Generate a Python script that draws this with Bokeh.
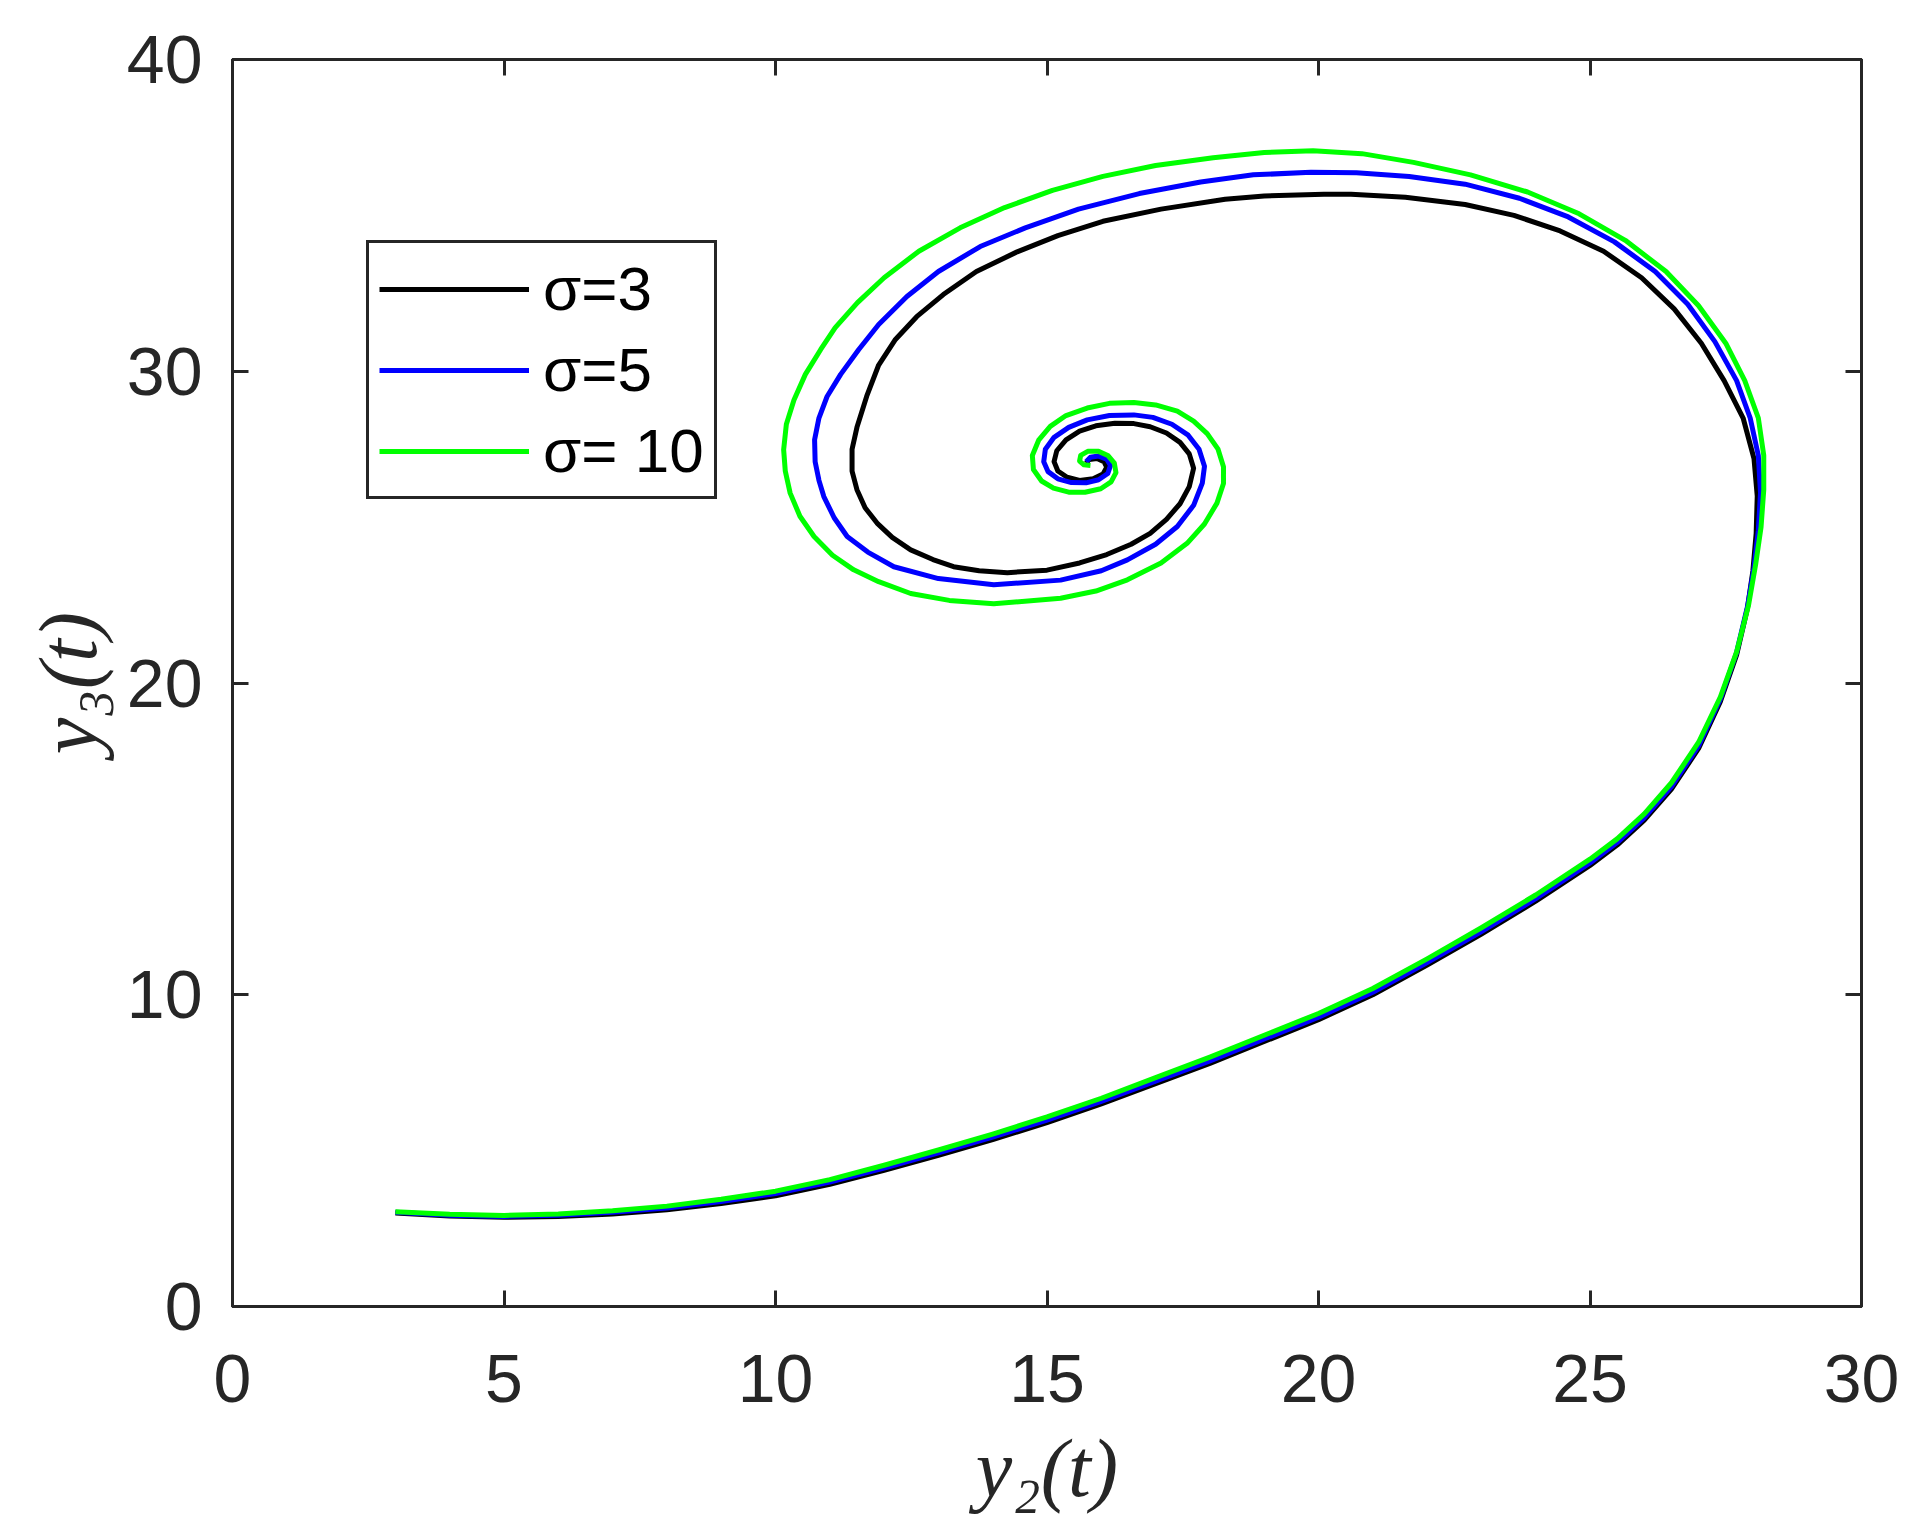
from bokeh.plotting import figure
from bokeh.models import Legend, LegendItem, LinearAxis, FixedTicker, Range1d
from bokeh.embed import file_html
from bokeh.resources import INLINE

# ---- data ----
x_ticks = [0, 5, 10, 15, 20, 25, 30]
y_ticks = [0, 10, 20, 30, 40]

black_x = [3.0, 4.0, 5.0, 6.0, 7.0, 8.0, 9.0, 10.0, 11.0, 12.0, 13.0, 14.0, 15.0, 16.0, 17.0, 18.0, 19.0, 20.0,
           21.0, 22.0, 23.0, 24.0, 25.0, 25.5, 26.0, 26.5, 27.0, 27.4, 27.7, 27.9, 28.0, 28.06, 28.08,
           28.02, 27.82, 27.47, 27.05, 26.55, 25.95, 25.25, 24.45, 23.6, 22.7, 21.6, 20.6, 20.1, 19.0, 18.28,
           17.1, 16.03, 15.2, 14.45, 13.7, 13.09, 12.6, 12.2, 11.9, 11.68, 11.5, 11.41, 11.41, 11.5, 11.65,
           11.87, 12.15, 12.49, 12.9, 13.28, 13.75, 14.27, 15.0, 15.6, 16.1, 16.55, 16.9, 17.2, 17.45, 17.62,
           17.7, 17.62, 17.45, 17.2, 16.9, 16.6, 16.25, 15.9, 15.6, 15.35, 15.18, 15.13, 15.2, 15.37, 15.6,
           15.85, 16.03, 16.1, 16.05, 15.92, 15.78, 15.72]
black_y = [3.0, 2.9, 2.86, 2.89, 2.97, 3.1, 3.3, 3.55, 3.92, 4.37, 4.85, 5.35, 5.9, 6.5, 7.15, 7.8, 8.5, 9.2,
           10.0, 10.95, 11.95, 13.0, 14.15, 14.8, 15.6, 16.6, 17.9, 19.4, 20.9, 22.4, 23.6, 24.8, 26.0,
           27.2, 28.5, 29.7, 30.9, 32.0, 33.0, 33.85, 34.5, 35.0, 35.35, 35.58, 35.68, 35.68, 35.62, 35.52,
           35.2, 34.81, 34.35, 33.83, 33.2, 32.46, 31.75, 31.0, 30.2, 29.2, 28.2, 27.5, 26.8, 26.2, 25.62,
           25.13, 24.67, 24.27, 23.96, 23.73, 23.6, 23.54, 23.62, 23.85, 24.12, 24.45, 24.8, 25.25, 25.75, 26.3,
           26.89, 27.35, 27.72, 28.02, 28.22, 28.32, 28.33, 28.25, 28.08, 27.8, 27.45, 27.1, 26.8, 26.6, 26.5,
           26.55, 26.7, 26.92, 27.1, 27.2, 27.17, 27.05]

blue_x = [3.0, 4.0, 5.0, 6.0, 7.0, 8.0, 9.0, 10.0, 11.0, 12.0, 13.0, 14.0, 15.0, 16.0, 17.0, 18.0, 19.0, 20.0,
          21.0, 22.0, 23.0, 24.0, 25.0, 25.5, 26.0, 26.5, 27.0, 27.4, 27.7, 27.9, 28.02, 28.1, 28.14,
          28.1, 27.95, 27.7, 27.3, 26.8, 26.2, 25.45, 24.6, 23.7, 22.7, 21.67, 20.7, 19.86, 18.8, 17.83,
          16.7, 15.58, 14.6, 13.77, 13.0, 12.42, 11.9, 11.53, 11.2, 10.95, 10.8, 10.72, 10.73, 10.8, 10.89, 11.08,
          11.32, 11.7, 12.18, 13.0, 14.02, 15.25, 16.0, 16.48, 17.0, 17.4, 17.7, 17.86, 17.9, 17.8, 17.6, 17.3,
          16.95, 16.6, 16.15, 15.74, 15.4, 15.13, 14.97, 14.94, 15.02, 15.2, 15.45, 15.72, 15.95, 16.12, 16.17,
          16.1, 15.95, 15.8, 15.72]
blue_y = [3.02, 2.93, 2.89, 2.93, 3.02, 3.16, 3.37, 3.62, 3.99, 4.44, 4.93, 5.43, 5.98, 6.58, 7.23, 7.88, 8.58, 9.28,
          10.08, 11.03, 12.03, 13.08, 14.23, 14.88, 15.68, 16.68, 17.98, 19.48, 20.98, 22.45, 23.7, 24.9, 26.1,
          27.3, 28.5, 29.7, 30.95, 32.15, 33.2, 34.15, 34.95, 35.55, 36.0, 36.25, 36.37, 36.38, 36.3, 36.07,
          35.7, 35.2, 34.6, 34.0, 33.2, 32.4, 31.5, 30.69, 29.9, 29.19, 28.5, 27.8, 27.1, 26.5, 25.98, 25.3,
          24.7, 24.2, 23.73, 23.35, 23.15, 23.3, 23.6, 23.95, 24.45, 25.02, 25.7, 26.41, 26.95, 27.5, 27.95, 28.3,
          28.52, 28.6, 28.58, 28.44, 28.2, 27.88, 27.5, 27.1, 26.78, 26.55, 26.43, 26.42, 26.52, 26.72, 26.98,
          27.18, 27.28, 27.24, 27.1]

green_x = [3.0, 4.0, 5.0, 6.0, 7.0, 8.0, 9.0, 10.0, 11.0, 12.0, 13.0, 14.0, 15.0, 16.0, 17.0, 18.0, 19.0, 20.0,
           21.0, 22.0, 23.0, 24.0, 25.0, 25.5, 26.0, 26.5, 27.0, 27.4, 27.7, 27.92, 28.05, 28.15, 28.2, 28.2,
           28.1, 27.85, 27.5, 27.0, 26.4, 25.65, 24.8, 23.85, 22.8, 21.75, 20.8, 19.9, 19.0, 18.06,
           17.0, 16.03, 15.1, 14.22, 13.4, 12.64, 12.0, 11.51, 11.1, 10.83, 10.55, 10.34, 10.2, 10.15, 10.18,
           10.27, 10.45, 10.71, 11.05, 11.44, 11.9, 12.49, 13.2, 14.02, 15.25, 15.9, 16.48, 17.1, 17.58, 17.9,
           18.13, 18.25, 18.25, 18.15, 17.95, 17.7, 17.4, 17.0, 16.6, 16.15, 15.74, 15.35, 15.06, 14.85, 14.73,
           14.75, 14.9, 15.12, 15.4, 15.7, 15.99, 16.18, 16.27, 16.24, 16.12, 15.95, 15.75, 15.62, 15.6, 15.68,
           15.8]
green_y = [3.04, 2.96, 2.92, 2.97, 3.07, 3.22, 3.44, 3.7, 4.07, 4.53, 5.02, 5.53, 6.08, 6.68, 7.34, 8.0, 8.7, 9.4,
           10.2, 11.15, 12.15, 13.2, 14.35, 15.0, 15.8, 16.8, 18.1, 19.55, 21.0, 22.5, 23.8, 25.0, 26.2, 27.3,
           28.5, 29.7, 30.9, 32.1, 33.2, 34.2, 35.05, 35.75, 36.3, 36.7, 36.98, 37.07, 37.02, 36.85,
           36.6, 36.25, 35.8, 35.25, 34.6, 33.85, 33.0, 32.2, 31.4, 30.69, 29.9, 29.08, 28.3, 27.48, 26.8,
           26.09, 25.35, 24.7, 24.1, 23.63, 23.25, 22.87, 22.65, 22.54, 22.72, 22.95, 23.31, 23.85, 24.48, 25.1,
           25.77, 26.4, 26.94, 27.5, 28.0, 28.4, 28.72, 28.92, 29.0, 28.97, 28.82, 28.58, 28.23, 27.8, 27.3,
           26.85, 26.48, 26.25, 26.12, 26.12, 26.23, 26.45, 26.75, 27.05, 27.3, 27.43, 27.43, 27.3, 27.12, 27.0,
           26.98]

labels = ["σ=3", "σ=5", "σ= 10"]
colors = ["#000000", "#0000FF", "#00FF00"]

AX = "#262626"
W, H = 1920, 1539

p = figure(width=W, height=H, output_backend="svg", toolbar_location=None,
           x_range=Range1d(0, 30), y_range=Range1d(0, 40),
           min_border_left=232, min_border_right=59, min_border_top=59, min_border_bottom=233)
p.background_fill_color = "white"
p.border_fill_color = "white"
p.grid.visible = False
p.outline_line_color = AX
p.outline_line_width = 3

lw = 5
r1 = p.line(black_x, black_y, line_color=colors[0], line_width=lw, line_join="round")
r2 = p.line(blue_x, blue_y, line_color=colors[1], line_width=lw, line_join="round")
r3 = p.line(green_x, green_y, line_color=colors[2], line_width=lw, line_join="round")

for ax, ticks in ((p.xaxis[0], x_ticks), (p.yaxis[0], y_ticks)):
    ax.ticker = FixedTicker(ticks=ticks)
    ax.axis_line_color = AX
    ax.axis_line_width = 3
    ax.major_tick_line_color = AX
    ax.major_tick_line_width = 3
    ax.major_tick_in = 16
    ax.major_tick_out = 0
    ax.minor_tick_line_color = None
    ax.major_label_text_font = "Liberation Sans"
    ax.major_label_text_font_size = "68px"
    ax.major_label_text_color = AX
    ax.axis_label_text_font = "Liberation Serif"
    ax.axis_label_text_font_style = "italic"
    ax.axis_label_text_font_size = "82px"
    ax.axis_label_text_color = AX

p.xaxis[0].axis_label = "y₂(t)"
p.yaxis[0].axis_label = "y₃(t)"
p.xaxis[0].major_label_standoff = 48
p.yaxis[0].major_label_standoff = 30
p.xaxis[0].axis_label_standoff = 18
p.yaxis[0].axis_label_standoff = 10

for loc, ticks in (("above", x_ticks), ("right", y_ticks)):
    a = LinearAxis(ticker=FixedTicker(ticks=ticks))
    a.axis_line_color = AX
    a.axis_line_width = 3
    a.major_tick_line_color = AX
    a.major_tick_line_width = 3
    a.major_tick_in = 16
    a.major_tick_out = 0
    a.minor_tick_line_color = None
    a.major_label_text_color = None
    a.major_label_text_font_size = "1px"
    a.major_label_standoff = 0
    p.add_layout(a, loc)

legend = Legend(items=[LegendItem(label=labels[0], renderers=[r1]),
                       LegendItem(label=labels[1], renderers=[r2]),
                       LegendItem(label=labels[2], renderers=[r3])],
                location=(134, 807))
legend.label_text_font = "Liberation Sans"
legend.label_text_font_size = "62px"
legend.label_text_color = "#000000"
legend.glyph_width = 150
legend.glyph_height = 60
legend.label_height = 60
legend.label_standoff = 14
legend.spacing = 10
legend.padding = 10
legend.margin = 0
legend.border_line_color = AX
legend.border_line_width = 3
legend.border_line_alpha = 1.0
legend.background_fill_color = "white"
legend.background_fill_alpha = 1.0
p.add_layout(legend, "center")

open("out.html", "w").write(file_html(p, INLINE))
